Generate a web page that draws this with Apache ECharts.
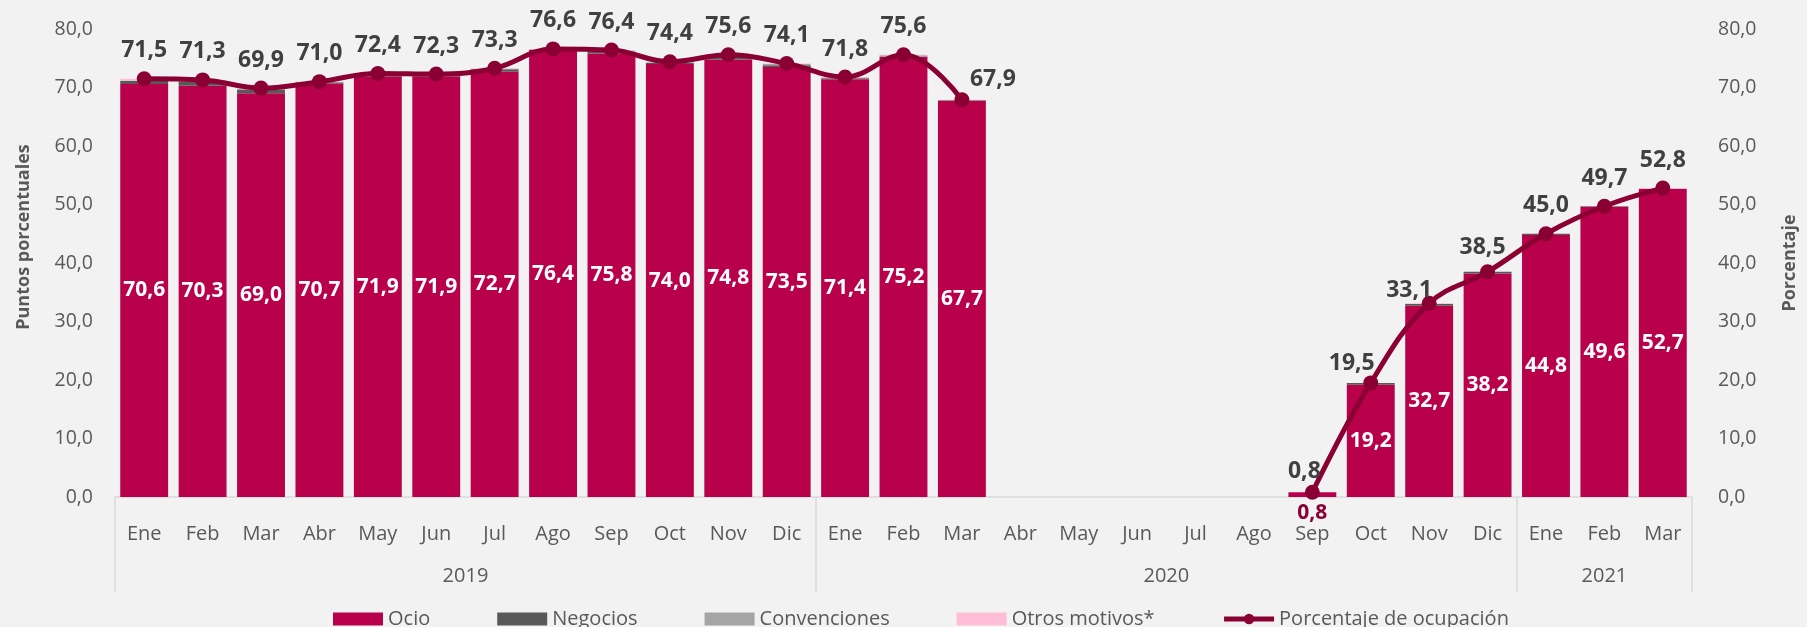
<!DOCTYPE html>
<html>
<head>
<meta charset="utf-8">
<script src="https://cdn.jsdelivr.net/npm/echarts@6/dist/echarts.min.js"></script>
<style>
html, body { margin: 0; padding: 0; background: #f2f2f2; }
#chart { width: 1807px; height: 627px; }
</style>
</head>
<body>
<div id="chart"></div>
<script>
// meses (eje de categorías) y años agrupados
var months = ['Ene', 'Feb', 'Mar', 'Abr', 'May', 'Jun', 'Jul', 'Ago', 'Sep', 'Oct', 'Nov', 'Dic',
    'Ene', 'Feb', 'Mar', 'Abr', 'May', 'Jun', 'Jul', 'Ago', 'Sep', 'Oct', 'Nov', 'Dic',
    'Ene', 'Feb', 'Mar'];
var years = ['2019', '2020', '2021'];
var monthsPerYear = [12, 12, 3];

// puntos porcentuales por motivo de viaje
var ocio = [70.6, 70.3, 69.0, 70.7, 71.9, 71.9, 72.7, 76.4, 75.8, 74.0, 74.8, 73.5,
    71.4, 75.2, 67.7, null, null, null, null, null, 0.8, 19.2, 32.7, 38.2,
    44.8, 49.6, 52.7];
var negocios = [0.5, 0.7, 0.6, 0.2, 0.3, 0.3, 0.4, 0.1, 0.3, 0.2, 0.4, 0.3,
    0.2, 0.1, 0.1, null, null, null, null, null, 0, 0.3, 0.3, 0.3,
    0.2, 0.1, 0];
var convenciones = [0.1, 0.2, 0.2, 0, 0.1, 0, 0.1, 0, 0.2, 0.1, 0.3, 0.2,
    0.1, 0.2, 0, null, null, null, null, null, 0, 0, 0, 0,
    0, 0, 0];
var otros = [0.3, 0.1, 0.1, 0.1, 0.1, 0.1, 0.1, 0.1, 0.1, 0.1, 0.1, 0.1,
    0.1, 0.1, 0.1, null, null, null, null, null, 0, 0, 0.1, 0,
    0, 0, 0.1];

// porcentaje de ocupación total
var ocupacion = [71.5, 71.3, 69.9, 71.0, 72.4, 72.3, 73.3, 76.6, 76.4, 74.4, 75.6, 74.1,
    71.8, 75.6, 67.9, null, null, null, null, null, 0.8, 19.5, 33.1, 38.5,
    45.0, 49.7, 52.8];

// desplazamiento de algunas etiquetas de la línea (estilo)
var lineLabelOffsets = { 14: [31, 8], 20: [-8, 7], 21: [-19, 9], 22: [-20, 15], 23: [-5, 4] };

var FONT = '"Open Sans", "Noto Sans", sans-serif';
var TXT = '#595959';

function fmt(v) {
    return Number(v).toFixed(1).replace('.', ',');
}

// límites y centros de los grupos de años
var bounds = [0];
var centers = [];
monthsPerYear.forEach(function (n) {
    var s = bounds[bounds.length - 1];
    centers.push(s + n / 2);
    bounds.push(s + n);
});

var ocioData = ocio.map(function (v, i) {
    if (v !== null && v < 2) {
        // barra demasiado baja: etiqueta bajo el eje
        return { value: v, label: { position: 'bottom', distance: 6, color: '#8B0033' } };
    }
    return v;
});

var lineData = ocupacion.map(function (v, i) {
    if (lineLabelOffsets[i]) {
        return { value: v, label: { offset: lineLabelOffsets[i] } };
    }
    return v;
});

var chart = echarts.init(document.getElementById('chart'));

var option = {
    backgroundColor: '#f2f2f2',
    animation: false,
    textStyle: { fontFamily: FONT },
    grid: { left: 115, right: 112, top: 29, bottom: 130 },
    legend: {
        top: 604,
        left: 328,
        itemWidth: 50,
        itemHeight: 13,
        itemGap: 67,
        textStyle: { color: TXT, fontSize: 20, fontFamily: FONT },
        data: [
            { name: 'Ocio', icon: 'rect' },
            { name: 'Negocios', icon: 'rect' },
            { name: 'Convenciones', icon: 'rect' },
            { name: 'Otros motivos*', icon: 'rect' },
            { name: 'Porcentaje de ocupación', lineStyle: { width: 5 } }
        ]
    },
    xAxis: [
        {
            type: 'category',
            data: months,
            position: 'bottom',
            axisLine: { lineStyle: { color: '#d9d9d9', width: 1.5 } },
            axisTick: { show: false },
            axisLabel: { color: TXT, fontSize: 20, margin: 27, interval: 0 }
        },
        {
            type: 'value',
            min: 0,
            max: bounds[bounds.length - 1],
            position: 'bottom',
            axisLine: { show: false },
            splitLine: { show: false },
            axisTick: { show: true, customValues: bounds, length: 95, lineStyle: { color: '#d9d9d9', width: 1.5 } },
            axisLabel: {
                customValues: centers,
                color: TXT,
                fontSize: 20,
                margin: 69,
                formatter: function (v) {
                    var i = centers.indexOf(v);
                    return i >= 0 ? years[i] : '';
                }
            }
        }
    ],
    yAxis: [
        {
            type: 'value',
            min: 0,
            max: 80,
            interval: 10,
            name: 'Puntos porcentuales',
            nameLocation: 'middle',
            nameRotate: 90,
            nameGap: 82,
            nameTextStyle: { color: TXT, fontSize: 18, fontWeight: 'bold', padding: [0, 0, 0, 52] },
            axisLine: { show: false },
            axisTick: { show: false },
            splitLine: { show: false },
            axisLabel: { color: TXT, fontSize: 19.5, margin: 22, formatter: fmt }
        },
        {
            type: 'value',
            min: 0,
            max: 80,
            interval: 10,
            name: 'Porcentaje',
            nameLocation: 'middle',
            nameRotate: 90,
            nameGap: 89,
            nameTextStyle: { color: TXT, fontSize: 18, fontWeight: 'bold' },
            axisLine: { show: false },
            axisTick: { show: false },
            splitLine: { show: false },
            axisLabel: { color: TXT, fontSize: 19.5, margin: 26, formatter: fmt }
        }
    ],
    series: [
        {
            name: 'Ocio',
            type: 'bar',
            stack: 'motivos',
            barCategoryGap: '18%',
            itemStyle: { color: '#B8004B' },
            label: {
                show: true,
                position: 'inside',
                color: '#ffffff',
                fontWeight: 'bold',
                fontSize: 21,
                formatter: function (p) { return fmt(p.value); }
            },
            data: ocioData
        },
        {
            name: 'Negocios',
            type: 'bar',
            stack: 'motivos',
            itemStyle: { color: '#595959' },
            data: negocios
        },
        {
            name: 'Convenciones',
            type: 'bar',
            stack: 'motivos',
            itemStyle: { color: '#A5A5A5' },
            data: convenciones
        },
        {
            name: 'Otros motivos*',
            type: 'bar',
            stack: 'motivos',
            itemStyle: { color: '#FFBDD6' },
            data: otros
        },
        {
            name: 'Porcentaje de ocupación',
            type: 'line',
            yAxisIndex: 1,
            smooth: 0.4,
            connectNulls: false,
            symbol: 'circle',
            symbolSize: 15,
            z: 5,
            lineStyle: { color: '#8B0033', width: 5 },
            itemStyle: { color: '#8B0033' },
            label: {
                show: true,
                position: 'top',
                distance: 9,
                color: '#404040',
                fontWeight: 'bold',
                fontSize: 23,
                formatter: function (p) { return fmt(p.value); }
            },
            data: lineData
        }
    ]
};

chart.setOption(option);
</script>
</body>
</html>
